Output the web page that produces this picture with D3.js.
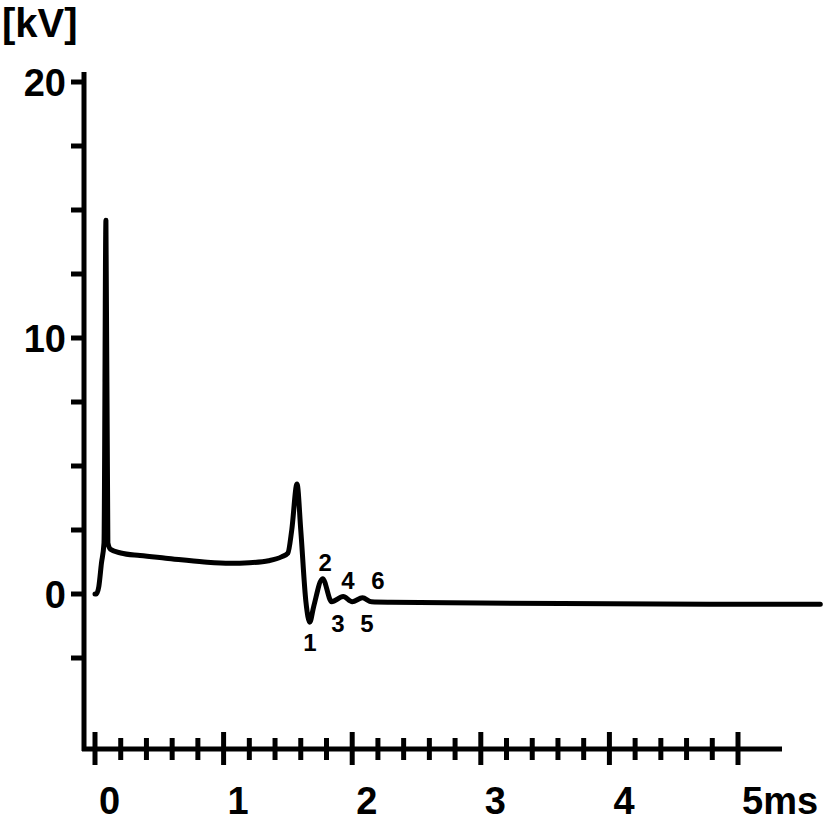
<!DOCTYPE html>
<html>
<head>
<meta charset="utf-8">
<script src="https://cdn.jsdelivr.net/npm/d3@7"></script>
<style>
  html, body { margin: 0; padding: 0; background: #fff; }
  svg { display: block; }
  text { font-family: "Liberation Sans", Arial, sans-serif; font-weight: bold; fill: #000; }
</style>
</head>
<body>
<svg id="chart" width="832" height="826"></svg>
<script>
// ---- data ----
const timeMs = [0, 0.01, 0.03, 0.05, 0.07, 0.085, 0.1, 0.12, 0.2, 0.35, 0.55, 0.85, 1.05, 1.2, 1.35, 1.45, 1.5, 1.53, 1.571, 1.6, 1.64, 1.67, 1.7, 1.77, 1.84, 1.93, 2.0, 2.08, 2.15, 2.3, 3.0, 4.0, 5.0, 5.64];
const voltageKV = [0, 0, 0.3, 1.2, 2.0, 14.6, 2.0, 1.75, 1.6, 1.5, 1.4, 1.25, 1.2, 1.22, 1.3, 1.45, 1.6, 2.5, 4.3, 2.5, -0.3, -1.1, -0.5, 0.6, -0.3, -0.1, -0.3, -0.15, -0.3, -0.32, -0.35, -0.38, -0.4, -0.4];

const peakLabels = ["1", "2", "3", "4", "5", "6"];
const peakLabelT = [1.672, 1.789, 1.89, 1.967, 2.115, 2.2];
const peakLabelV = [-1.88, 1.25, -1.13, 0.55, -1.13, 0.55];

const yMajorTicks = [0, 10, 20];
const yTickLabels = ["0", "10", "20"];
const yMinorTicks = [-2.5, 2.5, 5, 7.5, 12.5, 15, 17.5];
const xMajorTicks = [0, 1, 2, 3, 4, 5];
const xTickLabels = ["0", "1", "2", "3", "4", "5ms"];
const xMinorTicks = d3.range(0, 26).map(i => +(i * 0.2).toFixed(1)).filter(v => !xMajorTicks.includes(v));
const yUnit = "[kV]";

// ---- scales ----
const x = d3.scaleLinear().domain([0, 5]).range([95, 738]);
const y = d3.scaleLinear().domain([0, 20]).range([594, 82]);

const svg = d3.select("#chart");

// y axis
const axisX = 84;
svg.append("line")
  .attr("x1", axisX).attr("x2", axisX)
  .attr("y1", 72).attr("y2", 751)
  .attr("stroke", "#000").attr("stroke-width", 5);

svg.selectAll(".ytick")
  .data(yMajorTicks.concat(yMinorTicks))
  .enter().append("line")
  .attr("x1", 71).attr("x2", axisX)
  .attr("y1", d => y(d)).attr("y2", d => y(d))
  .attr("stroke", "#000").attr("stroke-width", 5);

svg.selectAll(".ylab")
  .data(yMajorTicks)
  .enter().append("text")
  .attr("x", 66)
  .attr("y", d => y(d))
  .attr("dy", "0.36em")
  .attr("text-anchor", "end")
  .style("font-size", "38px")
  .text((d, i) => yTickLabels[i]);

svg.append("text")
  .attr("x", 2).attr("y", 37)
  .style("font-size", "40px")
  .text(yUnit);

// x axis
const axisY = 749;
svg.append("line")
  .attr("x1", axisX - 2).attr("x2", 782)
  .attr("y1", axisY).attr("y2", axisY)
  .attr("stroke", "#000").attr("stroke-width", 5);

svg.selectAll(".xminor")
  .data(xMinorTicks)
  .enter().append("line")
  .attr("x1", d => x(d)).attr("x2", d => x(d))
  .attr("y1", 738).attr("y2", 760)
  .attr("stroke", "#000").attr("stroke-width", 5);

svg.selectAll(".xmajor")
  .data(xMajorTicks)
  .enter().append("line")
  .attr("x1", d => x(d)).attr("x2", d => x(d))
  .attr("y1", 732).attr("y2", 765)
  .attr("stroke", "#000").attr("stroke-width", 5);

svg.selectAll(".xlab")
  .data(xMajorTicks)
  .enter().append("text")
  .attr("x", d => x(d) + 4)
  .attr("y", 814)
  .attr("text-anchor", "start")
  .style("font-size", "38px")
  .text((d, i) => xTickLabels[i]);

// curve
const pts = timeMs.map((t, i) => [t, voltageKV[i]]);
const line = d3.line()
  .x(d => x(d[0]))
  .y(d => y(d[1]))
  .curve(d3.curveMonotoneX);

svg.append("path")
  .datum(pts)
  .attr("d", line)
  .attr("fill", "none")
  .attr("stroke", "#000")
  .attr("stroke-width", 5)
  .attr("stroke-linejoin", "round")
  .attr("stroke-linecap", "round");

// peak labels
svg.selectAll(".plab")
  .data(peakLabels)
  .enter().append("text")
  .attr("x", (d, i) => x(peakLabelT[i]))
  .attr("y", (d, i) => y(peakLabelV[i]))
  .attr("dy", "0.36em")
  .attr("text-anchor", "middle")
  .style("font-size", "24px")
  .text(d => d);
</script>
</body>
</html>
